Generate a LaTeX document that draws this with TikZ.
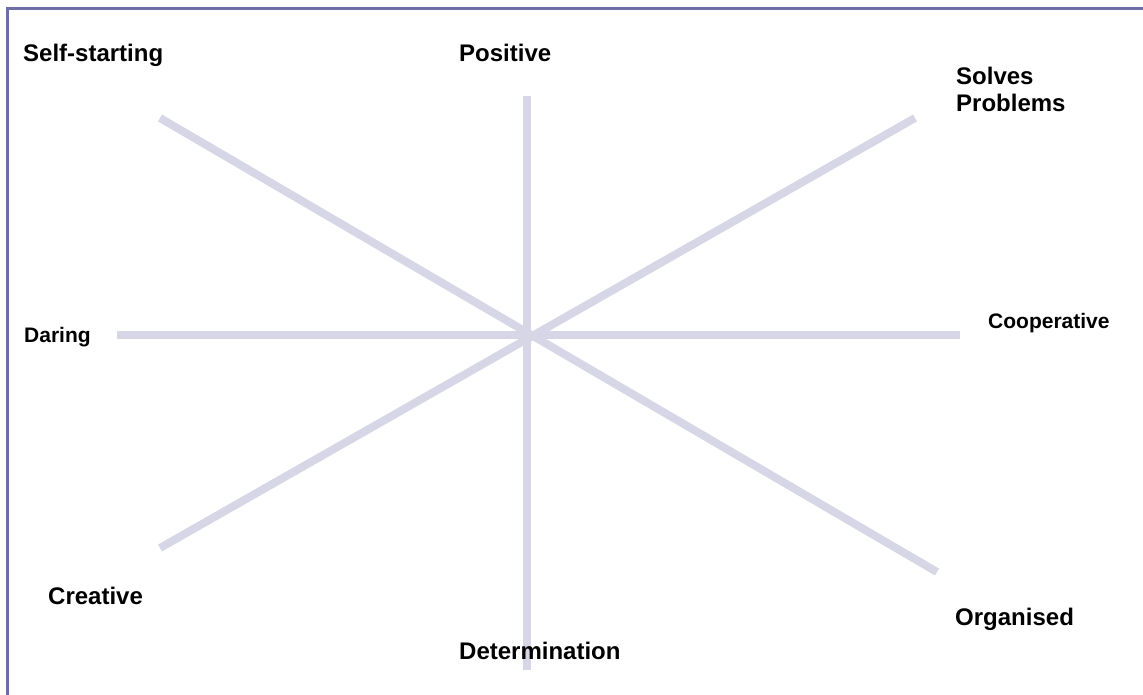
\documentclass[tikz,border=0pt]{standalone}
\usepackage{fontspec}
\setmainfont{Liberation Sans}
\definecolor{wheelFrame}{RGB}{110,110,164}
\definecolor{wheelSpoke}{RGB}{214,214,230}
\usetikzlibrary{positioning}

\begin{document}
\begin{tikzpicture}[
    x=1pt, y=-1pt,
    trait/.style={anchor=base west, inner sep=0pt, font=\fontsize{24}{27}\selectfont\bfseries},
    smalltrait/.style={trait, font=\fontsize{21}{25}\selectfont\bfseries},
    spoke/.style={draw=wheelSpoke, line width=8pt, line cap=butt}
  ]
  \useasboundingbox (0,0) rectangle (1143,695);

  % frame (open to the right and bottom)
  \draw[wheelFrame, line width=2.7pt] (7.3,695) -- (7.3,8.8) -- (1143,8.8);

  % spoke ends
  \coordinate (hub) at (527,335);
  \coordinate (nEnd) at (527,96);
  \coordinate (sEnd) at (527,670);
  \coordinate (wEnd) at (117,335);
  \coordinate (eEnd) at (960,335);
  \coordinate (nwEnd) at (160,118);
  \coordinate (seEnd) at (937,572);
  \coordinate (neEnd) at (915,118);
  \coordinate (swEnd) at (160,548);

  % spokes
  \draw[spoke] (nEnd) -- (sEnd);
  \draw[spoke] (wEnd) -- (eEnd);
  \draw[spoke] (nwEnd) -- (seEnd);
  \draw[spoke] (swEnd) -- (neEnd);

  % traits
  \node[trait] (selfstart) at (23,62) {Self-starting};
  \node[trait] (positive) at (459,62) {Positive};
  \node[trait, align=left] (solves) at (956,112) {Solves\\Problems};
  \node[smalltrait] (daring) at (24,342) {Daring};
  \node[smalltrait] (coop) at (988,328) {Cooperative};
  \node[trait] (creative) at (48,604) {Creative};
  \node[trait] (determ) at (459,659) {Determination};
  \node[trait] (organised) at (955,625) {Organised};
\end{tikzpicture}
\end{document}
